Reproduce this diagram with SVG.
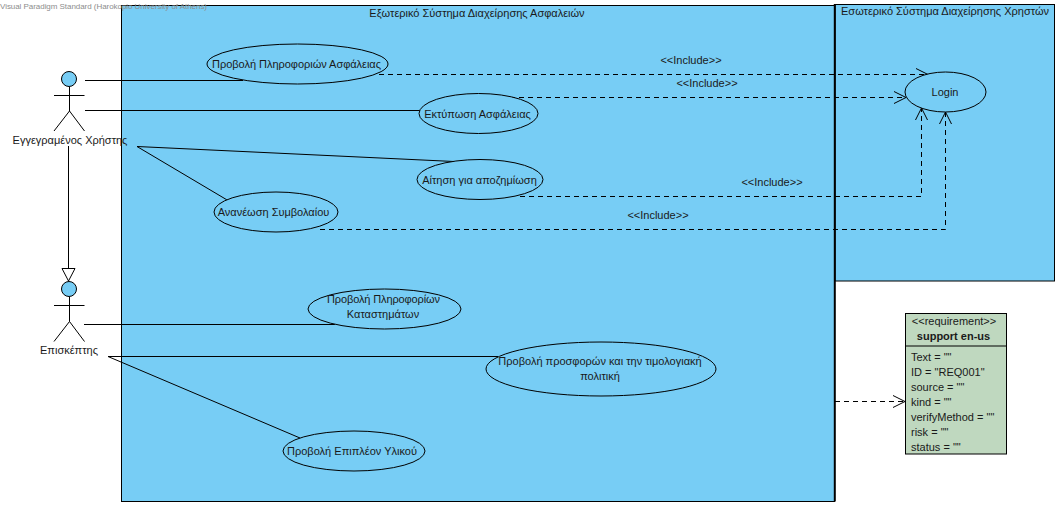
<svg xmlns="http://www.w3.org/2000/svg" width="1059" height="506" viewBox="0 0 1059 506">
<style>
text{font-family:"Liberation Sans",Arial,sans-serif;font-size:11px;fill:#1a1a1a}
.m{text-anchor:middle}
.sys{fill:#77cdf5;stroke:#000;stroke-width:1}
.uc{fill:#77cdf5;stroke:#000;stroke-width:1}
.ln{fill:none;stroke:#000;stroke-width:1}
.dash{fill:none;stroke:#000;stroke-width:1;stroke-dasharray:5 4;marker-end:url(#open)}
.actor{fill:none;stroke:#000;stroke-width:1}
.head{fill:#77cdf5;stroke:#000;stroke-width:1}
</style>
<defs>
<marker id="open" viewBox="0 0 14 14" refX="13" refY="7" markerWidth="14" markerHeight="14" markerUnits="userSpaceOnUse" orient="auto"><path d="M1 1L13 7L1 13" fill="none" stroke="#000" stroke-width="1"/></marker>
</defs>
<rect width="1059" height="506" fill="#fff"/>
<g id="system-insurance"><rect class="sys" x="121.500" y="5.500" width="713" height="496"/><text class="m" x="477" y="17">Εξωτερικό Σύστημα Διαχείρησης Ασφαλειών</text></g>
<g id="system-users"><rect class="sys" x="835" y="4.500" width="219.500" height="276.500"/><path d="M834.800 4V501.500" stroke="#000" stroke-width="2"/><text x="841" y="15" textLength="208">Εσωτερικό Σύστημα Διαχείρησης Χρηστών</text></g>
<text x="0" y="9" textLength="207" style="font-size:8px;fill:#8d8d8d">Visual Paradigm Standard (Harokopio University of Athens)</text>
<g id="connectors">
<path class="ln" d="M85 80.500H243"/>
<path class="ln" d="M85 110.500H421"/>
<path class="ln" d="M137 146.500L454 161.500"/>
<path class="ln" d="M137 146.500L228 200.500"/>
<path class="ln" d="M68.500 146V268"/>
<path d="M62 268.500H75L68.500 281Z" fill="#fff" stroke="#000"/>
<path class="ln" d="M84 324.500H335"/>
<path class="ln" d="M108 356.500H498"/>
<path class="ln" d="M108 356.500L300 438"/>
<path class="dash" d="M379 74.500H928"/>
<path class="dash" d="M510 97.500H906"/>
<path class="dash" d="M520 196.500H921.500V108"/>
<path class="dash" d="M320 229.500H945.500V112"/>
<path class="dash" d="M835 401.500H905"/>
</g>
<g id="uc-info"><ellipse class="uc" cx="297.500" cy="64" rx="90.500" ry="20"/><text x="212" y="68" textLength="169">Προβολή Πληροφοριών Ασφάλειας</text></g>
<g id="uc-print"><ellipse class="uc" cx="478.500" cy="113.500" rx="59.500" ry="20"/><text class="m" x="477.500" y="118">Εκτύπωση Ασφάλειας</text></g>
<g id="uc-claim"><ellipse class="uc" cx="480" cy="179.500" rx="63" ry="20"/><text class="m" x="479.500" y="184">Αίτηση για αποζημίωση</text></g>
<g id="uc-renew"><ellipse class="uc" cx="276" cy="212" rx="62" ry="20"/><text class="m" x="273.500" y="216">Ανανέωση Συμβολαίου</text></g>
<g id="uc-stores"><ellipse class="uc" cx="384.500" cy="309" rx="76.500" ry="20"/><text x="327" y="303" textLength="113">Προβολή Πληροφορίων</text><text class="m" x="383" y="318">Καταστημάτων</text></g>
<g id="uc-offers"><ellipse class="uc" cx="601" cy="369" rx="115" ry="27"/><text class="m" x="600" y="365">Προβολή προσφορών και την τιμολογιακή</text><text class="m" x="600" y="380">πολιτική</text></g>
<g id="uc-extra"><ellipse class="uc" cx="354" cy="451" rx="71" ry="20"/><text x="287" y="455" textLength="130">Προβολή Επιπλέον Υλικού</text></g>
<g id="uc-login"><ellipse class="uc" cx="945.500" cy="92" rx="40.500" ry="20"/><text class="m" x="945" y="96">Login</text></g>
<g id="actor-registered"><circle class="head" cx="69" cy="79" r="7.500"/><path class="actor" d="M69.500 87V111M54 95.500H84.500M54 131L69.500 111L84.500 131"/><text class="m" x="70" y="144">Εγγεγραμένος Χρήστης</text></g>
<g id="actor-visitor"><circle class="head" cx="69" cy="289" r="7.500"/><path class="actor" d="M69.500 297V321.500M54 305.500H84.500M54 341.500L69.500 321.500L84.500 341.500"/><text class="m" x="69" y="354">Επισκέπτης</text></g>
<g id="req-support">
<rect x="905.500" y="313.500" width="101" height="140.500" fill="#bfd8bf" stroke="#000"/>
<path d="M905.500 346H1006.500" stroke="#000"/>
<text class="m" x="954" y="325">&lt;&lt;requirement&gt;&gt;</text>
<text class="m" x="953.500" y="340" font-weight="bold">support en-us</text>
<text x="911" y="361">Text = ""</text>
<text x="911" y="376">ID = "REQ001"</text>
<text x="911" y="391">source = ""</text>
<text x="911" y="406">kind = ""</text>
<text x="911" y="421">verifyMethod = ""</text>
<text x="911" y="436">risk = ""</text>
<text x="911" y="451">status = ""</text>
</g>
<g id="labels">
<text class="m" x="691" y="64">&lt;&lt;Include&gt;&gt;</text>
<text class="m" x="707" y="87">&lt;&lt;Include&gt;&gt;</text>
<text class="m" x="772" y="186">&lt;&lt;Include&gt;&gt;</text>
<text class="m" x="658" y="219">&lt;&lt;Include&gt;&gt;</text>
</g>
</svg>
